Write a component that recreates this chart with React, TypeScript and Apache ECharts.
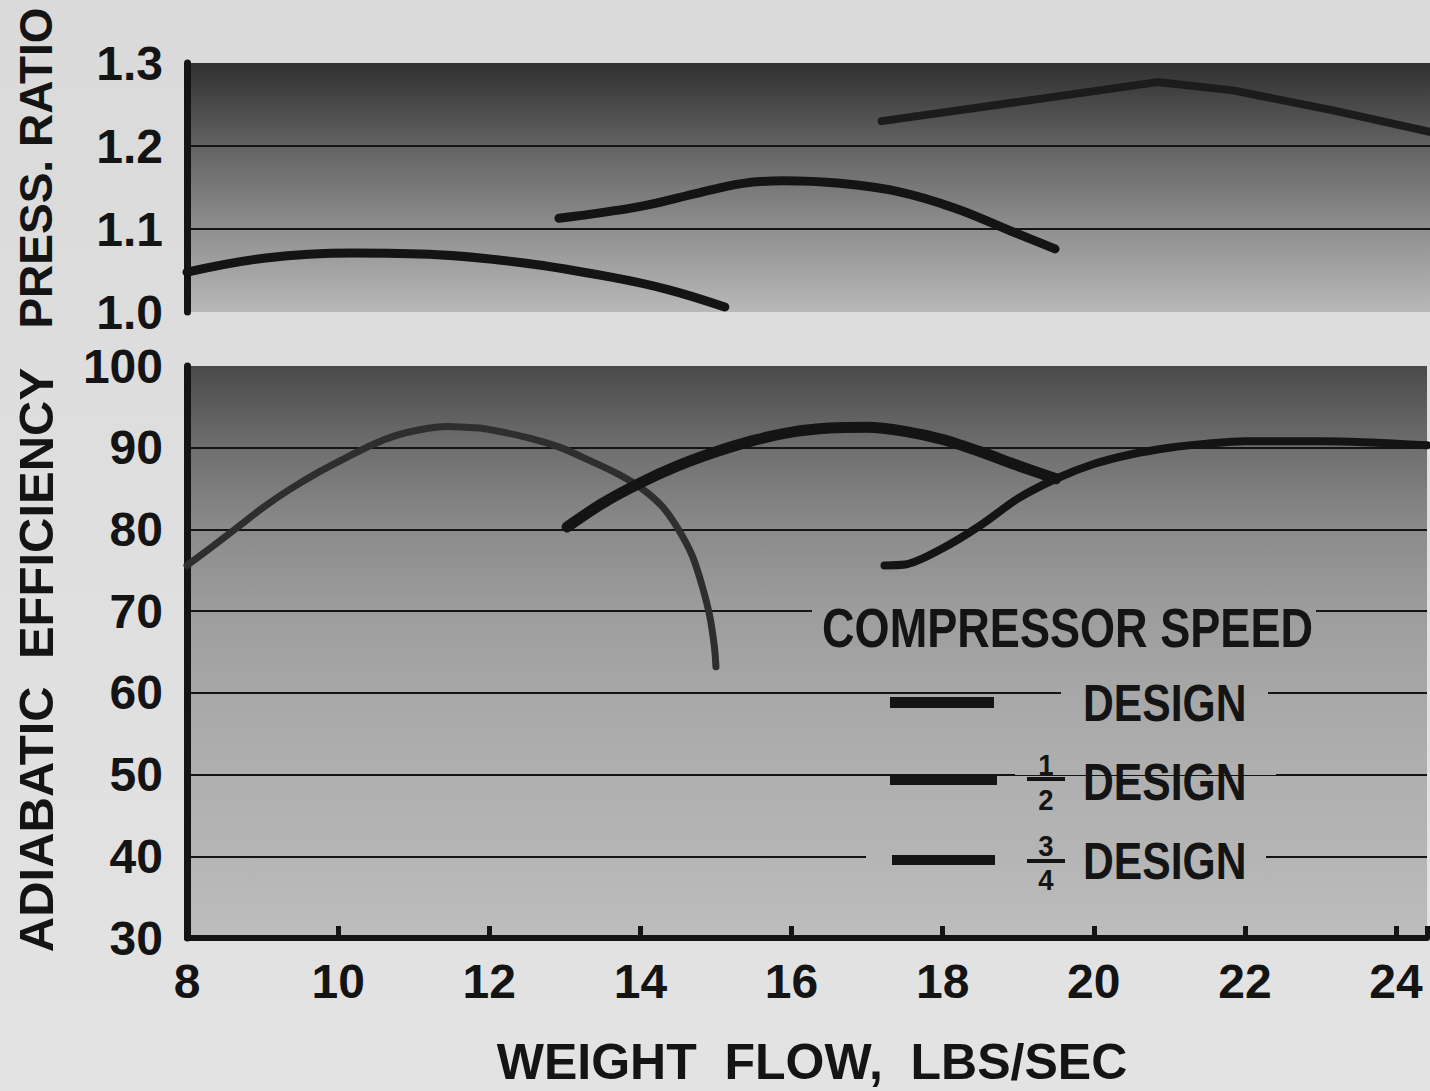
import React, { useEffect, useRef } from "react";
import * as echarts from "echarts";

// ---- Data ----
// Pressure ratio vs weight flow
const halfPrFlow = [8.0, 9.04, 10.18, 11.31, 12.45, 13.6, 14.35, 15.1];
const halfPr = [1.048, 1.065, 1.071, 1.069, 1.059, 1.042, 1.027, 1.006];

const threeQPrFlow = [12.91, 13.97, 14.73, 15.34, 15.87, 16.62, 17.39, 18.14, 18.89, 19.46];
const threeQPr = [1.113, 1.127, 1.143, 1.155, 1.158, 1.155, 1.145, 1.125, 1.097, 1.076];

const designPrFlow = [17.17, 18.73, 20.81, 21.81, 23.13, 24.41];
const designPr = [1.23, 1.25, 1.277, 1.267, 1.243, 1.217];

// Adiabatic efficiency vs weight flow
const halfEffFlow = [8.0, 8.35, 8.66, 9.01, 9.36, 9.76, 10.11, 10.46, 10.77, 11.08, 11.43, 11.87, 12.04, 12.48, 12.92, 13.36, 13.72, 14.02, 14.29, 14.51, 14.69, 14.82, 14.92, 14.98, 15.0];
const halfEff = [75.6, 78.0, 80.2, 82.7, 84.9, 87.1, 88.8, 90.4, 91.5, 92.2, 92.6, 92.4, 92.15, 91.3, 90.1, 88.3, 86.7, 85.0, 82.8, 79.9, 76.7, 73.0, 69.3, 65.6, 63.2];

const threeQEffFlow = [13.03, 13.5, 14.0, 14.5, 15.0, 15.5, 16.0, 16.5, 17.0, 17.5, 18.0, 18.5, 19.0, 19.5];
const threeQEff = [80.3, 83.2, 85.7, 87.8, 89.5, 90.9, 91.9, 92.4, 92.5, 92.0, 91.0, 89.5, 87.8, 86.2];

const designEffFlow = [17.23, 17.5, 18.0, 18.5, 19.0, 19.5, 20.0, 20.5, 21.0, 21.5, 22.0, 23.0, 24.41];
const designEff = [75.6, 75.7, 77.7, 80.5, 83.8, 86.2, 88.0, 89.2, 90.0, 90.5, 90.8, 90.8, 90.3];

// Axis ranges
const flowMin = 8;
const flowMax = 24.41;
const flowStep = 2;
const prMin = 1.0;
const prMax = 1.3;
const prStep = 0.1;
const effMin = 30;
const effMax = 100;
const effStep = 10;

const seriesNames = ["DESIGN", "1/2 DESIGN", "3/4 DESIGN"];

const zip = (xs: number[], ys: number[]) => xs.map((x, i) => [x, ys[i]]);

const WIDE = '"Liberation Sans", Arial, sans-serif';
const INK = "#141414";

export default function App() {
  const ref = useRef<HTMLDivElement>(null);

  useEffect(() => {
    if (!ref.current) return;
    const chart = echarts.init(ref.current, null, { renderer: "svg" });

    const topGrad = new echarts.graphic.LinearGradient(
      0, 63, 0, 312,
      [
        { offset: 0, color: "#303030" },
        { offset: 0.33, color: "#626262" },
        { offset: 0.66, color: "#8e8e8e" },
        { offset: 1, color: "#b8b8b8" },
      ],
      true
    );
    const botStops = [
      { offset: 0, color: "#4a4a4a" },
      { offset: 0.14, color: "#6e6e6e" },
      { offset: 0.28, color: "#8a8a8a" },
      { offset: 0.42, color: "#9c9c9c" },
      { offset: 0.57, color: "#a7a7a7" },
      { offset: 0.71, color: "#afafaf" },
      { offset: 0.86, color: "#b5b5b5" },
      { offset: 1, color: "#bdbdbd" },
    ];
    const botGrad = () => new echarts.graphic.LinearGradient(0, 366, 0, 938, botStops, true);

    const valueLabel = {
      fontFamily: WIDE,
      fontWeight: "bold" as const,
      fontSize: 48,
      color: INK,
    };

    const cover = (x1: number, x2: number, y: number) => ({
      type: "rect",
      z: 1,
      silent: true,
      shape: { x: x1, y: y - 5, width: x2 - x1, height: 10 },
      style: { fill: botGrad() },
    });

    const legendText = (text: string, x: number, y: number, size: number, align = "left", sx = 0.82) => ({
      type: "text",
      z: 5,
      x,
      y,
      scaleX: sx,
      style: {
        text,
        fill: INK,
        font: `bold ${size}px ${WIDE}`,
        align,
        verticalAlign: "middle",
      },
    });

    chart.setOption({
      animation: false,
      grid: [
        { left: 187, right: 0, top: 63, height: 249, show: true, borderWidth: 0, backgroundColor: topGrad },
        { left: 187, right: 0, top: 366, height: 572, show: true, borderWidth: 0, backgroundColor: botGrad() },
      ],
      xAxis: [
        {
          type: "value",
          gridIndex: 0,
          min: flowMin,
          max: flowMax,
          interval: flowStep,
          show: false,
        },
        {
          type: "value",
          gridIndex: 1,
          min: flowMin,
          max: flowMax,
          interval: flowStep,
          axisLine: { show: true, lineStyle: { color: INK, width: 6 } },
          axisTick: { show: true, inside: true, length: 12, lineStyle: { color: INK, width: 5 } },
          axisLabel: {
            ...valueLabel,
            margin: 19,
            formatter: (v: number) => (Number.isInteger(v) ? String(v) : ""),
          },
          splitLine: { show: false },
        },
      ],
      yAxis: [
        {
          type: "value",
          gridIndex: 0,
          min: prMin,
          max: prMax,
          interval: prStep,
          axisLine: { show: true, lineStyle: { color: INK, width: 7 } },
          axisTick: { show: false },
          axisLabel: { ...valueLabel, margin: 24, formatter: (v: number) => v.toFixed(1) },
          splitLine: { show: true, showMinLine: false, showMaxLine: false, lineStyle: { color: INK, width: 2 } },
        },
        {
          type: "value",
          gridIndex: 1,
          min: effMin,
          max: effMax,
          interval: effStep,
          axisLine: { show: true, lineStyle: { color: INK, width: 7 } },
          axisTick: { show: false },
          axisLabel: { ...valueLabel, margin: 24 },
          splitLine: { show: true, showMinLine: false, showMaxLine: false, lineStyle: { color: INK, width: 2 } },
        },
      ],
      series: [
        {
          name: seriesNames[1],
          type: "line",
          xAxisIndex: 0,
          yAxisIndex: 0,
          data: zip(halfPrFlow, halfPr),
          smooth: 0.4,
          showSymbol: false,
          lineStyle: { color: INK, width: 9, cap: "round" },
        },
        {
          name: seriesNames[2],
          type: "line",
          xAxisIndex: 0,
          yAxisIndex: 0,
          data: zip(threeQPrFlow, threeQPr),
          smooth: 0.4,
          showSymbol: false,
          lineStyle: { color: INK, width: 9, cap: "round" },
        },
        {
          name: seriesNames[0],
          type: "line",
          xAxisIndex: 0,
          yAxisIndex: 0,
          data: zip(designPrFlow, designPr),
          smooth: false,
          showSymbol: false,
          lineStyle: { color: "#1c1c1c", width: 8, cap: "round", join: "round" },
        },
        {
          name: seriesNames[1],
          type: "line",
          xAxisIndex: 1,
          yAxisIndex: 1,
          data: zip(halfEffFlow, halfEff),
          smooth: 0.3,
          showSymbol: false,
          lineStyle: { color: "#2e2e2e", width: 7, cap: "round", join: "round" },
        },
        {
          name: seriesNames[2],
          type: "line",
          xAxisIndex: 1,
          yAxisIndex: 1,
          data: zip(threeQEffFlow, threeQEff),
          smooth: 0.3,
          showSymbol: false,
          lineStyle: { color: INK, width: 11, cap: "round" },
        },
        {
          name: seriesNames[0],
          type: "line",
          xAxisIndex: 1,
          yAxisIndex: 1,
          data: zip(designEffFlow, designEff),
          smooth: 0.3,
          showSymbol: false,
          lineStyle: { color: INK, width: 8, cap: "round" },
        },
      ],
      graphic: [
        // axis titles
        {
          type: "text",
          x: 36,
          y: 168,
          rotation: Math.PI / 2,
          style: { text: "PRESS. RATIO", fill: INK, font: `bold 46px ${WIDE}`, align: "center", verticalAlign: "middle" },
        },
        {
          type: "text",
          x: 36,
          y: 660,
          rotation: Math.PI / 2,
          style: { text: "ADIABATIC  EFFICIENCY", fill: INK, font: `bold 49px ${WIDE}`, align: "center", verticalAlign: "middle" },
        },
        {
          type: "text",
          x: 812,
          y: 1062,
          style: { text: "WEIGHT  FLOW,  LBS/SEC", fill: INK, font: `bold 50px ${WIDE}`, align: "center", verticalAlign: "middle" },
        },
        // gridline breaks behind the legend
        cover(812, 1316, 608),
        cover(1061, 1268, 690),
        cover(1015, 1276, 770),
        cover(866, 1266, 854),
        // legend
        legendText("COMPRESSOR SPEED", 822, 628, 55),
        { type: "rect", z: 5, shape: { x: 890, y: 697, width: 104, height: 11 }, style: { fill: INK } },
        { type: "rect", z: 5, shape: { x: 890, y: 774, width: 107, height: 11 }, style: { fill: INK } },
        { type: "rect", z: 5, shape: { x: 892, y: 855, width: 103, height: 10 }, style: { fill: INK } },
        legendText("DESIGN", 1083, 703, 52),
        legendText("DESIGN", 1083, 782, 52),
        legendText("DESIGN", 1083, 861, 52),
        legendText("1", 1046, 765, 29, "center", 0.95),
        { type: "rect", z: 5, shape: { x: 1027, y: 777, width: 38, height: 4 }, style: { fill: INK } },
        legendText("2", 1046, 800, 29, "center", 0.95),
        legendText("3", 1046, 846, 29, "center", 0.95),
        { type: "rect", z: 5, shape: { x: 1027, y: 859, width: 38, height: 4 }, style: { fill: INK } },
        legendText("4", 1046, 880, 29, "center", 0.95),
      ],
    });

    return () => chart.dispose();
  }, []);

  return (
    <div
      style={{
        position: "fixed",
        left: 0,
        top: 0,
        width: 1430,
        height: 1091,
        background: "linear-gradient(180deg, #dadada 0%, #dfdfdf 50%, #e3e3e3 100%)",
      }}
    >
      <div ref={ref} style={{ width: 1430, height: 1091 }} />
    </div>
  );
}
